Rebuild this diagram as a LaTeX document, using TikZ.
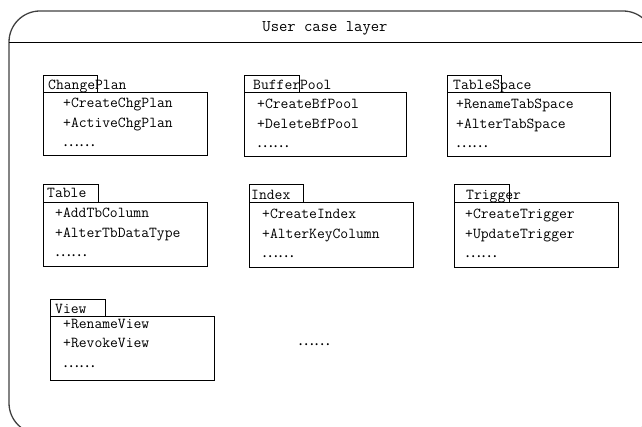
\documentclass[tikz,border=0pt]{standalone}
\usepackage{fontspec}
\newfontfamily\cjk{Noto Sans CJK SC}
\newcommand{\dotsline}{{\cjk\fontsize{15}{19.5}\selectfont ……}}
\begin{document}
\begin{tikzpicture}[x=1pt,y=-1pt,
  every node/.style={font=\ttfamily\fontsize{15.2}{19.5}\selectfont},
  frame/.style={draw=black!75, line width=1.3pt, rounded corners=31pt},
  tabbox/.style={draw, line width=0.8pt, inner sep=0pt, anchor=north west},
  bodybox/.style={draw, line width=0.8pt, inner sep=0pt, anchor=north west},
  lbl/.style={inner sep=0pt, anchor=base west},
  meth/.style={inner sep=0pt, anchor=base west, align=left}]
\useasboundingbox (0,0) rectangle (642,427);
\begin{scope}
  \clip (0,0) rectangle (642,427);
  \draw[frame] (9,11) rectangle (654,434);
  \coordinate (hl) at (9,43);
  \coordinate (hr) at (654,43);
  \draw[line width=1pt] (hl) -- (hr);
\end{scope}
\node[inner sep=0pt, font=\ttfamily\fontsize{16.2}{19}\selectfont] (title) at (325,28) {User case layer};

% ChangePlan
\node[tabbox, minimum width=54, minimum height=17] (cpT) at (43,75) {};
\node[bodybox, minimum width=164, minimum height=63] (cpB) at (43,92) {};
\node[lbl] (cpL) at (48,90) {ChangePlan};
\node[meth] (cpM) at (63,147) {+CreateChgPlan\\+ActiveChgPlan\\\dotsline};

% BufferPool
\node[tabbox, minimum width=55, minimum height=17] (bpT) at (244,75) {};
\node[bodybox, minimum width=162, minimum height=64] (bpB) at (244,92) {};
\node[lbl] (bpL) at (253,90) {BufferPool};
\node[meth] (bpM) at (257,148) {+CreateBfPool\\+DeleteBfPool\\\dotsline};

% TableSpace
\node[tabbox, minimum width=54, minimum height=17] (tsT) at (447,75) {};
\node[bodybox, minimum width=163, minimum height=64] (tsB) at (447,92) {};
\node[lbl] (tsL) at (453,90) {TableSpace};
\node[meth] (tsM) at (456,148) {+RenameTabSpace\\+AlterTabSpace\\\dotsline};

% Table
\node[tabbox, minimum width=55, minimum height=18] (tbT) at (43,184) {};
\node[bodybox, minimum width=164, minimum height=64] (tbB) at (43,202) {};
\node[lbl] (tbL) at (47,198) {Table};
\node[meth] (tbM) at (55,257) {+AddTbColumn\\+AlterTbDataType\\\dotsline};

% Index
\node[tabbox, minimum width=54, minimum height=18] (ixT) at (249,184) {};
\node[bodybox, minimum width=164, minimum height=65] (ixB) at (249,202) {};
\node[lbl] (ixL) at (251,200) {Index};
\node[meth] (ixM) at (262,258) {+CreateIndex\\+AlterKeyColumn\\\dotsline};

% Trigger
\node[tabbox, minimum width=55, minimum height=18] (trT) at (454,184) {};
\node[bodybox, minimum width=164, minimum height=65] (trB) at (454,202) {};
\node[lbl] (trL) at (466,200) {Trigger};
\node[meth] (trM) at (465,258) {+CreateTrigger\\+UpdateTrigger\\\dotsline};

% View
\node[tabbox, minimum width=55, minimum height=17] (vwT) at (50,299) {};
\node[bodybox, minimum width=164, minimum height=64] (vwB) at (50,316) {};
\node[lbl] (vwL) at (55,313) {View};
\node[meth] (vwM) at (63,367) {+RenameView\\+RevokeView\\\dotsline};

% more
\node[inner sep=0pt] (more) at (314,345) {\dotsline};
\end{tikzpicture}
\end{document}
